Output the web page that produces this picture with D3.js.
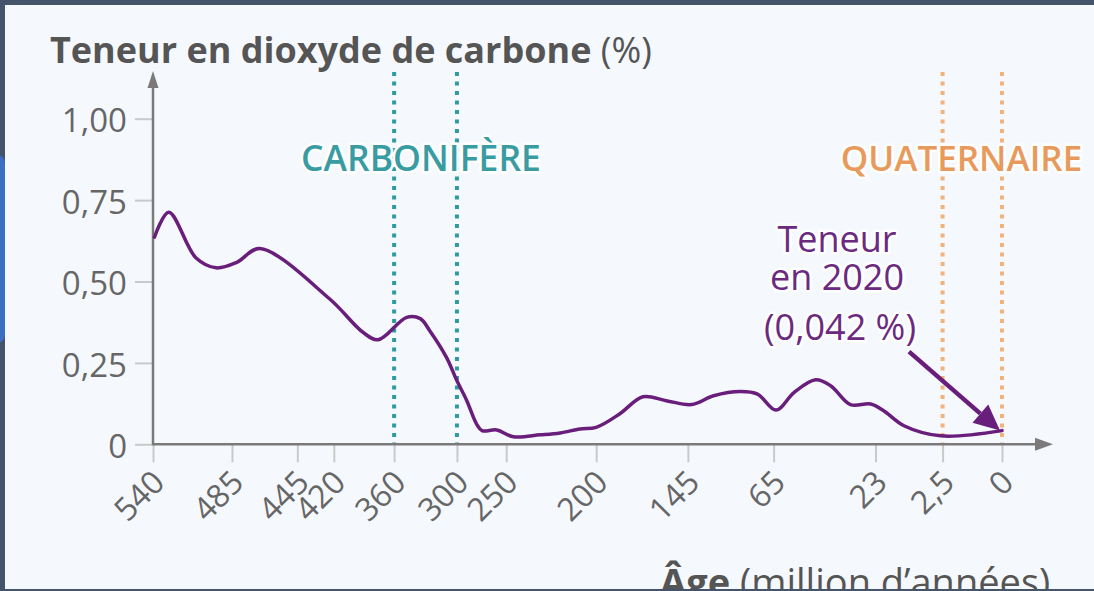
<!DOCTYPE html>
<html lang="fr">
<head>
<meta charset="utf-8">
<script src="https://cdn.jsdelivr.net/npm/d3@7"></script>
<style>
  html, body { margin: 0; padding: 0; background: #f5f9fe; overflow: hidden; }
  svg { display: block; font-family: "Open Sans", "Noto Sans", sans-serif; }
</style>
</head>
<body>
<svg id="chart" width="1094" height="591" viewBox="0 0 1094 591"></svg>
<script>
// Ages (millions d'années) shown on the horizontal axis, and their labels
const ageTicks = [540, 485, 445, 420, 360, 300, 250, 200, 145, 65, 23, 2.5, 0];
const ageTickLabels = ["540", "485", "445", "420", "360", "300", "250", "200", "145", "65", "23", "2,5", "0"];

// Vertical axis ticks (% de CO2)
const co2Ticks = [0, 0.25, 0.5, 0.75, 1];
const co2TickLabels = ["0", "0,25", "0,50", "0,75", "1,00"];

// Atmospheric CO2 content through time
const co2Ages = [539, 529, 510, 496, 482, 468, 423, 391, 376, 348, 335, 326, 310, 300, 290, 280,
                 274.5, 259.5, 246, 231, 220, 209, 200, 186, 172, 158, 141.5, 121, 96, 80, 64,
                 56.6, 47.7, 41.5, 33.3, 25, 20.5, 14.3, 3.1, 0];
const co2Values = [0.636, 0.713, 0.572, 0.542, 0.559, 0.601, 0.447, 0.344, 0.321, 0.390, 0.386, 0.349,
                   0.267, 0.195, 0.134, 0.062, 0.042, 0.044, 0.023, 0.029, 0.035, 0.047, 0.052, 0.093,
                   0.146, 0.134, 0.122, 0.149, 0.162, 0.154, 0.105, 0.159, 0.198, 0.180, 0.122, 0.124,
                   0.103, 0.057, 0.026, 0.042];

// Period boundaries (Ma)
const carboniferous = [360, 300];
const quaternary = [2.5, 0];
const co2In2020 = 0.042;

const W = 1094, H = 591;
const svg = d3.select("#chart");

// Light panel, then the dark frame on top/left/bottom and the side tab
svg.append("rect").attr("width", W).attr("height", H).attr("fill", "#f5f9fe");
const panel = svg.append("g");
const frame = svg.append("g").attr("fill", "#44546b");
frame.append("rect").attr("x", 0).attr("y", 0).attr("width", W).attr("height", 5);
frame.append("rect").attr("x", 0).attr("y", 0).attr("width", 5).attr("height", H);
frame.append("rect").attr("x", 0).attr("y", 589).attr("width", W).attr("height", H - 589);
svg.append("rect").attr("x", -12).attr("y", 155).attr("width", 17).attr("height", 188)
   .attr("rx", 8).attr("fill", "#3d6ec2");

// Irregular time axis: each labelled age sits at its own stop along the axis
const axisLeftX = 153, axisRightX = 1002;
const stopFractions = [0, 0.093, 0.170, 0.213, 0.284, 0.358, 0.416, 0.522, 0.630, 0.731, 0.851, 0.930, 1];
const x = d3.scaleLinear()
  .domain(ageTicks)
  .range(stopFractions.map(f => axisLeftX + f * (axisRightX - axisLeftX)));
const y = d3.scaleLinear().domain([0, 1]).range([444.3, 118.7]);

const axisColor = "#7a7a7a", tickColor = "#c9c9c9", labelColor = "#666";

// Period guides (dotted)
function guides(ages, color) {
  panel.selectAll(null).data(ages).enter().append("line")
    .attr("x1", d => x(d)).attr("x2", d => x(d))
    .attr("y1", 72).attr("y2", y(0))
    .attr("stroke", color).attr("stroke-width", 4)
    .attr("stroke-dasharray", "4,5.5");
}
guides(carboniferous, "#2f9aa0");
guides(quaternary, "#f1b27c");

// Y axis ticks
const yAxis = panel.append("g").attr("transform", `translate(${axisLeftX},0)`)
  .call(d3.axisLeft(y).tickValues(co2Ticks).tickSize(18).tickPadding(8)
        .tickFormat((d, i) => co2TickLabels[i]));
yAxis.select(".domain").remove();
yAxis.selectAll(".tick line").attr("stroke", tickColor).attr("stroke-width", 2);
yAxis.selectAll(".tick text").attr("fill", labelColor).attr("font-size", 33)
  .attr("font-family", "Open Sans").attr("dy", "0.4em");

// X axis ticks
const xAxis = panel.append("g").attr("transform", `translate(0,${y(0)})`)
  .call(d3.axisBottom(x).tickValues(ageTicks).tickSize(18)
        .tickFormat((d, i) => ageTickLabels[i]));
xAxis.select(".domain").remove();
xAxis.selectAll(".tick line").attr("stroke", tickColor).attr("stroke-width", 2);
xAxis.selectAll(".tick text")
  .attr("fill", labelColor).attr("font-size", 32).attr("font-family", "Open Sans")
  .attr("x", 0).attr("y", 0).attr("dy", 0)
  .attr("text-anchor", "end")
  .attr("transform", "translate(13,40) rotate(-45)");

// Axis lines with arrow heads
panel.append("line").attr("x1", axisLeftX).attr("x2", 1040).attr("y1", y(0)).attr("y2", y(0))
  .attr("stroke", axisColor).attr("stroke-width", 2.5);
panel.append("path").attr("d", `M1053,${y(0)} L1035,${y(0) - 6.5} L1035,${y(0) + 6.5} Z`).attr("fill", axisColor);
panel.append("line").attr("x1", axisLeftX).attr("x2", axisLeftX).attr("y1", y(0) + 1).attr("y2", 84)
  .attr("stroke", axisColor).attr("stroke-width", 2.5);
panel.append("path").attr("d", `M${axisLeftX},71 L${axisLeftX - 5.5},88 L${axisLeftX + 5.5},88 Z`).attr("fill", axisColor);

// CO2 curve
const purple = "#6a1e7c";
const line = d3.line()
  .x((d, i) => x(co2Ages[i]))
  .y(d => y(d))
  .curve(d3.curveCatmullRom.alpha(0.5));
panel.append("path").datum(co2Values).attr("d", line)
  .attr("fill", "none").attr("stroke", purple).attr("stroke-width", 3.5)
  .attr("stroke-linejoin", "round").attr("stroke-linecap", "round");

// Text with a light halo so it stays readable over the guides
function haloText(g, txt, px, py, opts) {
  return g.append("text").attr("x", px).attr("y", py)
    .attr("text-anchor", opts.anchor || "middle")
    .attr("font-size", opts.size).attr("font-weight", opts.weight || 400)
    .attr("fill", opts.fill)
    .attr("stroke", "#ffffff").attr("stroke-width", opts.halo || 5)
    .attr("stroke-linejoin", "round").attr("paint-order", "stroke")
    .text(txt);
}
haloText(panel, "CARBONIFÈRE", 421, 171, { size: 35.5, weight: 600, fill: "#3a9ca3" });
haloText(panel, "QUATERNAIRE", 961.5, 171, { size: 35, weight: 600, fill: "#e89a5c" });

// 2020 annotation
const note = panel.append("g");
haloText(note, "Teneur", 837, 252, { size: 36, fill: "#6b2a80" });
haloText(note, "en 2020", 837, 290, { size: 36, fill: "#6b2a80" });
haloText(note, "(0,042 %)", 840, 340, { size: 36, fill: "#6b2a80" });

const tipX = x(0) - 2, tipY = y(co2In2020);
const startX = tipX - 91, startY = tipY - 79;
const ang = Math.atan2(tipY - startY, tipX - startX);
const headLen = 26, headHalf = 12;
const bx = tipX - headLen * Math.cos(ang), by = tipY - headLen * Math.sin(ang);
note.append("line").attr("x1", startX).attr("y1", startY).attr("x2", bx).attr("y2", by)
  .attr("stroke", purple).attr("stroke-width", 4.5);
note.append("path")
  .attr("d", `M${tipX},${tipY} L${bx + headHalf * Math.sin(ang)},${by - headHalf * Math.cos(ang)} L${bx - headHalf * Math.sin(ang)},${by + headHalf * Math.cos(ang)} Z`)
  .attr("fill", purple);

// Titles
const title = panel.append("text").attr("x", 50).attr("y", 63).attr("font-size", 36).attr("fill", "#555");
title.append("tspan").attr("font-weight", 700).text("Teneur en dioxyde de carbone");
title.append("tspan").attr("font-weight", 400).text(" (%)");

const xTitle = panel.append("text").attr("x", 660).attr("y", 596).attr("font-size", 38).attr("fill", "#555");
xTitle.append("tspan").attr("font-weight", 700).text("Âge");
xTitle.append("tspan").attr("font-weight", 400).text(" (million d’années)");
</script>
</body>
</html>
